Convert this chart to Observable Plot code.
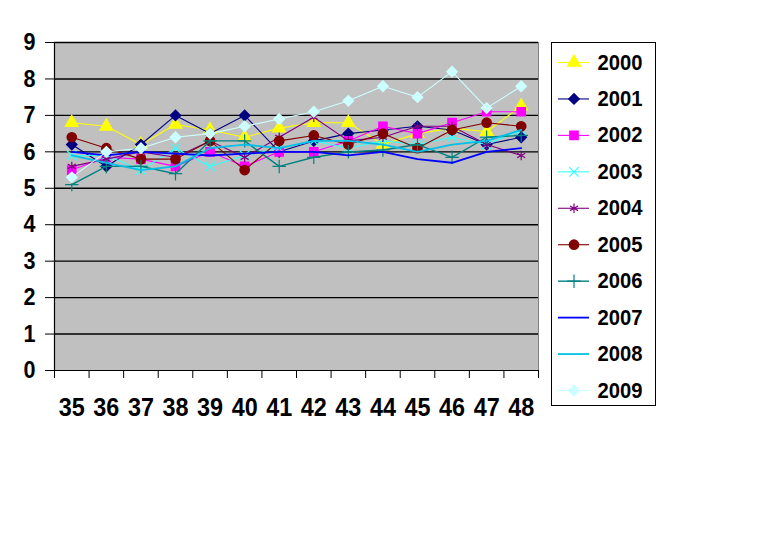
<!DOCTYPE html>
<html><head><meta charset="utf-8">
<script src="https://cdn.jsdelivr.net/npm/d3@7"></script>
<script src="https://cdn.jsdelivr.net/npm/@observablehq/plot@0.6"></script>
<style>
body{margin:0;background:#fff;width:769px;height:560px;position:relative;overflow:hidden;font-family:"Liberation Sans",Arial,sans-serif}
#chart{position:absolute;left:0;top:0}
#legend{position:absolute;left:551px;top:42px;width:103px;height:362px;border:1px solid #000;background:#fff}
#chart svg,#legend svg{display:block;overflow:visible}
</style></head><body>
<div id="chart"></div><div id="legend"></div>
<script>
const categories = [35, 36, 37, 38, 39, 40, 41, 42, 43, 44, 45, 46, 47, 48];
const yTicks = [0, 1, 2, 3, 4, 5, 6, 7, 8, 9];
const years = ["2000", "2001", "2002", "2003", "2004", "2005", "2006", "2007", "2008", "2009"];

const s2000 = [6.8, 6.7, 6.2, 6.75, 6.6, 6.4, 6.65, 6.8, 6.8, 6.2, 6.5, 6.65, 6.55, 7.25];
const s2001 = [6.2, 5.6, 6.2, 7.0, 6.5, 7.0, 6.0, 6.3, 6.5, 6.6, 6.7, 6.6, 6.2, 6.4];
const s2002 = [5.5, 5.85, 5.8, 5.6, 6.0, 5.6, 6.0, 6.0, 6.3, 6.7, 6.5, 6.8, 7.1, 7.1];
const s2003 = [5.9, 5.9, 5.5, 6.1, 5.6, 5.9, 6.1, 6.3, 6.1, 6.3, 6.2, 6.4, 6.2, 6.6];
const s2004 = [5.6, 5.8, 6.0, 5.85, 6.3, 5.85, 6.4, 6.95, 6.3, 6.4, 6.7, 6.7, 6.2, 5.9];
const s2005 = [6.4, 6.1, 5.8, 5.8, 6.3, 5.5, 6.3, 6.45, 6.2, 6.5, 6.1, 6.6, 6.8, 6.7];
const s2006 = [5.1, 5.6, 5.6, 5.4, 6.3, 6.3, 5.6, 5.85, 6.0, 6.05, 6.2, 5.85, 6.4, 6.45];
const s2007 = [6.0, 5.9, 6.0, 5.95, 5.9, 5.95, 6.0, 6.0, 5.9, 6.0, 5.8, 5.7, 6.0, 6.1];
const s2008 = [5.9, 5.7, 5.5, 5.6, 6.1, 6.2, 6.1, 6.3, 6.3, 6.2, 6.0, 6.2, 6.3, 6.6];
const s2009 = [5.3, 6.0, 6.1, 6.4, 6.5, 6.7, 6.9, 7.1, 7.4, 7.8, 7.5, 8.2, 7.2, 7.8];
const seriesValues = [s2000, s2001, s2002, s2003, s2004, s2005, s2006, s2007, s2008, s2009];

const colors = ["#FFFF00", "#000080", "#FF00FF", "#33FFFF", "#800080", "#800000", "#008080", "#0000FF", "#00C0E8", "#CCFFFF"];
const symbols = ["triangle", "diamond2", "square", "times", "asterisk", "circle", "plus", null, null, "diamond2"];
const filled = [true, true, true, false, false, true, false, false, false, true];
const widths = [1.1, 1.1, 1.1, 1.1, 1.1, 1.1, 1.4, 1.8, 1.8, 1.1];

const rows = years.flatMap((yr, i) => categories.map((c, j) => ({year: yr, idx: i, x: c, y: seriesValues[i][j]})));
const boundaries = categories.map(c => c - 0.5).concat([categories[categories.length - 1] + 0.5]);

const font = '"Liberation Sans",Arial,sans-serif';

function dotOpts(i, base) {
  return filled[i]
    ? {...base, symbol: () => symbols[i], fill: colors[i], stroke: colors[i], r: 4.6}
    : {...base, symbol: () => symbols[i], stroke: colors[i], strokeWidth: 1.2, r: 4.4};
}

const seriesMarks = years.flatMap((yr, i) => {
  const d = rows.filter(r => r.idx === i);
  const m = [Plot.line(d, {x: "x", y: "y", stroke: colors[i], strokeWidth: widths[i]})];
  if (symbols[i]) m.push(Plot.dot(d, dotOpts(i, {x: "x", y: "y"})));
  return m;
});

const chart = Plot.plot({
  width: 545, height: 430,
  marginLeft: 54, marginRight: 7, marginTop: 42, marginBottom: 60,
  style: {fontFamily: font, fontWeight: "bold", background: "transparent", color: "#000"},
  x: {type: "linear", domain: [34.5, 48.5]},
  y: {domain: [0, 9]},
  symbol: {type: "identity"},
  marks: [
    Plot.frame({fill: "#C0C0C0", stroke: "#808080"}),
    Plot.ruleY(yTicks.filter(t => t > 0), {stroke: "#000", strokeWidth: 1.4}),
    ...seriesMarks,
    Plot.ruleX([34.5], {stroke: "#000", strokeWidth: 1.2}),
    Plot.ruleY([0], {stroke: "#000", strokeWidth: 1.2}),
    Plot.axisY(yTicks, {tickSize: 9, tickPadding: 10, fontSize: 24, fontWeight: "bold", fontFamily: font, tickFormat: d => String(d), label: null, stroke: "#000"}),
    Plot.axisX(boundaries, {tickSize: 8, tickFormat: () => "", label: null, stroke: "#000"}),
    Plot.axisX(categories, {tickSize: 0, tickPadding: 27, fontSize: 26, fontWeight: "bold", fontFamily: font, tickFormat: d => String(d), label: null})
  ]
});
document.getElementById("chart").appendChild(chart);

// condense tick label glyphs like the original narrow bold font
d3.select(chart).selectAll('g[aria-label="y-axis tick label"] text')
  .each(function() { const t = this.textContent; this.setAttribute("textLength", 12 * t.length); this.setAttribute("lengthAdjust", "spacingAndGlyphs"); });
d3.select(chart).selectAll('g[aria-label="x-axis tick label"] text')
  .each(function() { const t = this.textContent; if (t) { this.setAttribute("textLength", 13 * t.length); this.setAttribute("lengthAdjust", "spacingAndGlyphs"); } });

const legendRows = years.map((yr, i) => ({year: yr, idx: i}));
const legendMarks = [];
legendRows.forEach(r => {
  const i = r.idx;
  legendMarks.push(Plot.ruleY([r], {y: "idx", x1: 6, x2: 37, stroke: colors[i], strokeWidth: widths[i]}));
  if (symbols[i]) legendMarks.push(Plot.dot([r], dotOpts(i, {x: () => 21.5, y: "idx"})));
});
legendMarks.push(Plot.text(legendRows, {x: () => 45, y: "idx", text: "year", textAnchor: "start", fontSize: 22, fontWeight: "bold", fontFamily: font, fill: "#000"}));

const legend = Plot.plot({
  width: 103, height: 362, margin: 0,
  style: {background: "transparent"},
  x: {type: "identity"},
  y: {type: "linear", domain: [0, 9], range: [19, 347], axis: null},
  symbol: {type: "identity"},
  axis: null,
  marks: legendMarks
});
document.getElementById("legend").appendChild(legend);
d3.select(legend).selectAll('g[aria-label="text"] text')
  .each(function() { this.setAttribute("textLength", 45); this.setAttribute("lengthAdjust", "spacingAndGlyphs"); });
</script>
</body></html>
